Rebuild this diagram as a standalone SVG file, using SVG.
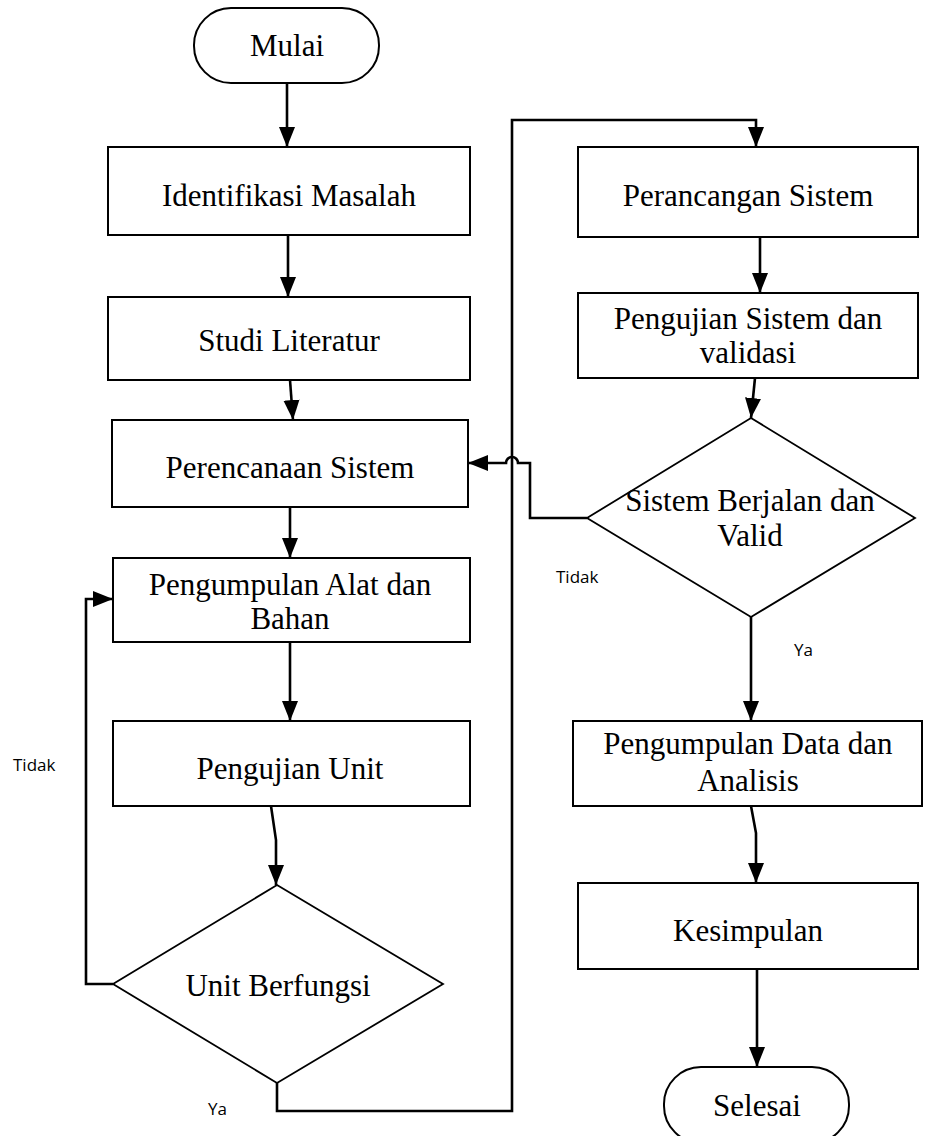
<svg xmlns="http://www.w3.org/2000/svg" width="930" height="1136" viewBox="0 0 930 1136">
<style>
.box{fill:#fff;stroke:#000;stroke-width:2}
.dia{fill:#fff;stroke:#000;stroke-width:1.8}
.t{font-family:"Liberation Serif","Times New Roman",serif;font-size:31px;fill:#000;text-anchor:middle}
.lb{font-family:"Open Sans","Liberation Sans",sans-serif;font-size:17px;fill:#000}
.c{fill:none;stroke:#000;stroke-width:2.6}
</style>
<defs>
<marker id="ah" markerUnits="userSpaceOnUse" markerWidth="22" markerHeight="20" viewBox="0 0 22 20" refX="20" refY="10" orient="auto">
<path d="M0,2 L20,10 L0,18 Z" fill="#000"/>
</marker>
</defs>
<g id="connectors">
<path class="c" d="M287,83 L287,147" marker-end="url(#ah)"/>
<path class="c" d="M288,235 L288,297" marker-end="url(#ah)"/>
<path class="c" d="M290,380 L293,420" marker-end="url(#ah)"/>
<path class="c" d="M290,507 L290,558" marker-end="url(#ah)"/>
<path class="c" d="M290,642 L290,721" marker-end="url(#ah)"/>
<path class="c" d="M271,806 L276,840 L276,885" marker-end="url(#ah)"/>
<path class="c" d="M113,984 L86,984 L86,599 L113,599" marker-end="url(#ah)"/>
<path class="c" d="M277,1083 L277,1111 L512,1111 L512,120 L756,120 L756,147" marker-end="url(#ah)"/>
<path class="c" d="M760,237 L760,293" marker-end="url(#ah)"/>
<path class="c" d="M755,378 L751,418" marker-end="url(#ah)"/>
<path class="c" d="M587,518 L530,518 L530,463 L518,463 A6,6 0 0 0 506,463 L468,463" marker-end="url(#ah)"/>
<path class="c" d="M751,617 L751,721" marker-end="url(#ah)"/>
<path class="c" d="M751,806 L756,833 L756,883" marker-end="url(#ah)"/>
<path class="c" d="M757,969 L757,1067" marker-end="url(#ah)"/>
<text class="lb" x="13" y="771">Tidak</text>
<text class="lb" x="556" y="583">Tidak</text>
<text class="lb" x="794" y="656">Ya</text>
<text class="lb" x="208" y="1115">Ya</text>
</g>
<g id="mulai"><rect class="box" x="194" y="8" width="185" height="75" rx="37" ry="37"/><text class="t" x="287" y="56">Mulai</text></g>
<g id="identifikasi"><rect class="box" x="108" y="147" width="362" height="88"/><text class="t" x="289" y="206">Identifikasi Masalah</text></g>
<g id="studi"><rect class="box" x="108" y="297" width="362" height="83"/><text class="t" x="289" y="351">Studi Literatur</text></g>
<g id="perencanaan"><rect class="box" x="112" y="420" width="356" height="87"/><text class="t" x="290" y="478">Perencanaan Sistem</text></g>
<g id="pengumpulan-alat"><rect class="box" x="113" y="558" width="357" height="84"/><text class="t" x="290" y="595">Pengumpulan Alat dan</text><text class="t" x="290" y="629">Bahan</text></g>
<g id="pengujian-unit"><rect class="box" x="113" y="721" width="357" height="85"/><text class="t" x="290" y="779">Pengujian Unit</text></g>
<g id="unit-berfungsi"><polygon class="dia" points="277,885 443,984 277,1083 113,984"/><text class="t" x="278" y="996">Unit Berfungsi</text></g>
<g id="perancangan"><rect class="box" x="578" y="147" width="340" height="90"/><text class="t" x="748" y="206">Perancangan Sistem</text></g>
<g id="pengujian-sistem"><rect class="box" x="578" y="293" width="340" height="85"/><text class="t" x="748" y="329">Pengujian Sistem dan</text><text class="t" x="748" y="363">validasi</text></g>
<g id="sistem-berjalan"><polygon class="dia" points="751,418 915,518 751,617 587,518"/><text class="t" x="750" y="511">Sistem Berjalan dan</text><text class="t" x="750" y="546">Valid</text></g>
<g id="pengumpulan-data"><rect class="box" x="573" y="721" width="349" height="85"/><text class="t" x="748" y="754">Pengumpulan Data dan</text><text class="t" x="748" y="791">Analisis</text></g>
<g id="kesimpulan"><rect class="box" x="578" y="883" width="340" height="86"/><text class="t" x="748" y="941">Kesimpulan</text></g>
<g id="selesai"><rect class="box" x="664" y="1067" width="185" height="76" rx="37" ry="37"/><text class="t" x="757" y="1116">Selesai</text></g>
</svg>
